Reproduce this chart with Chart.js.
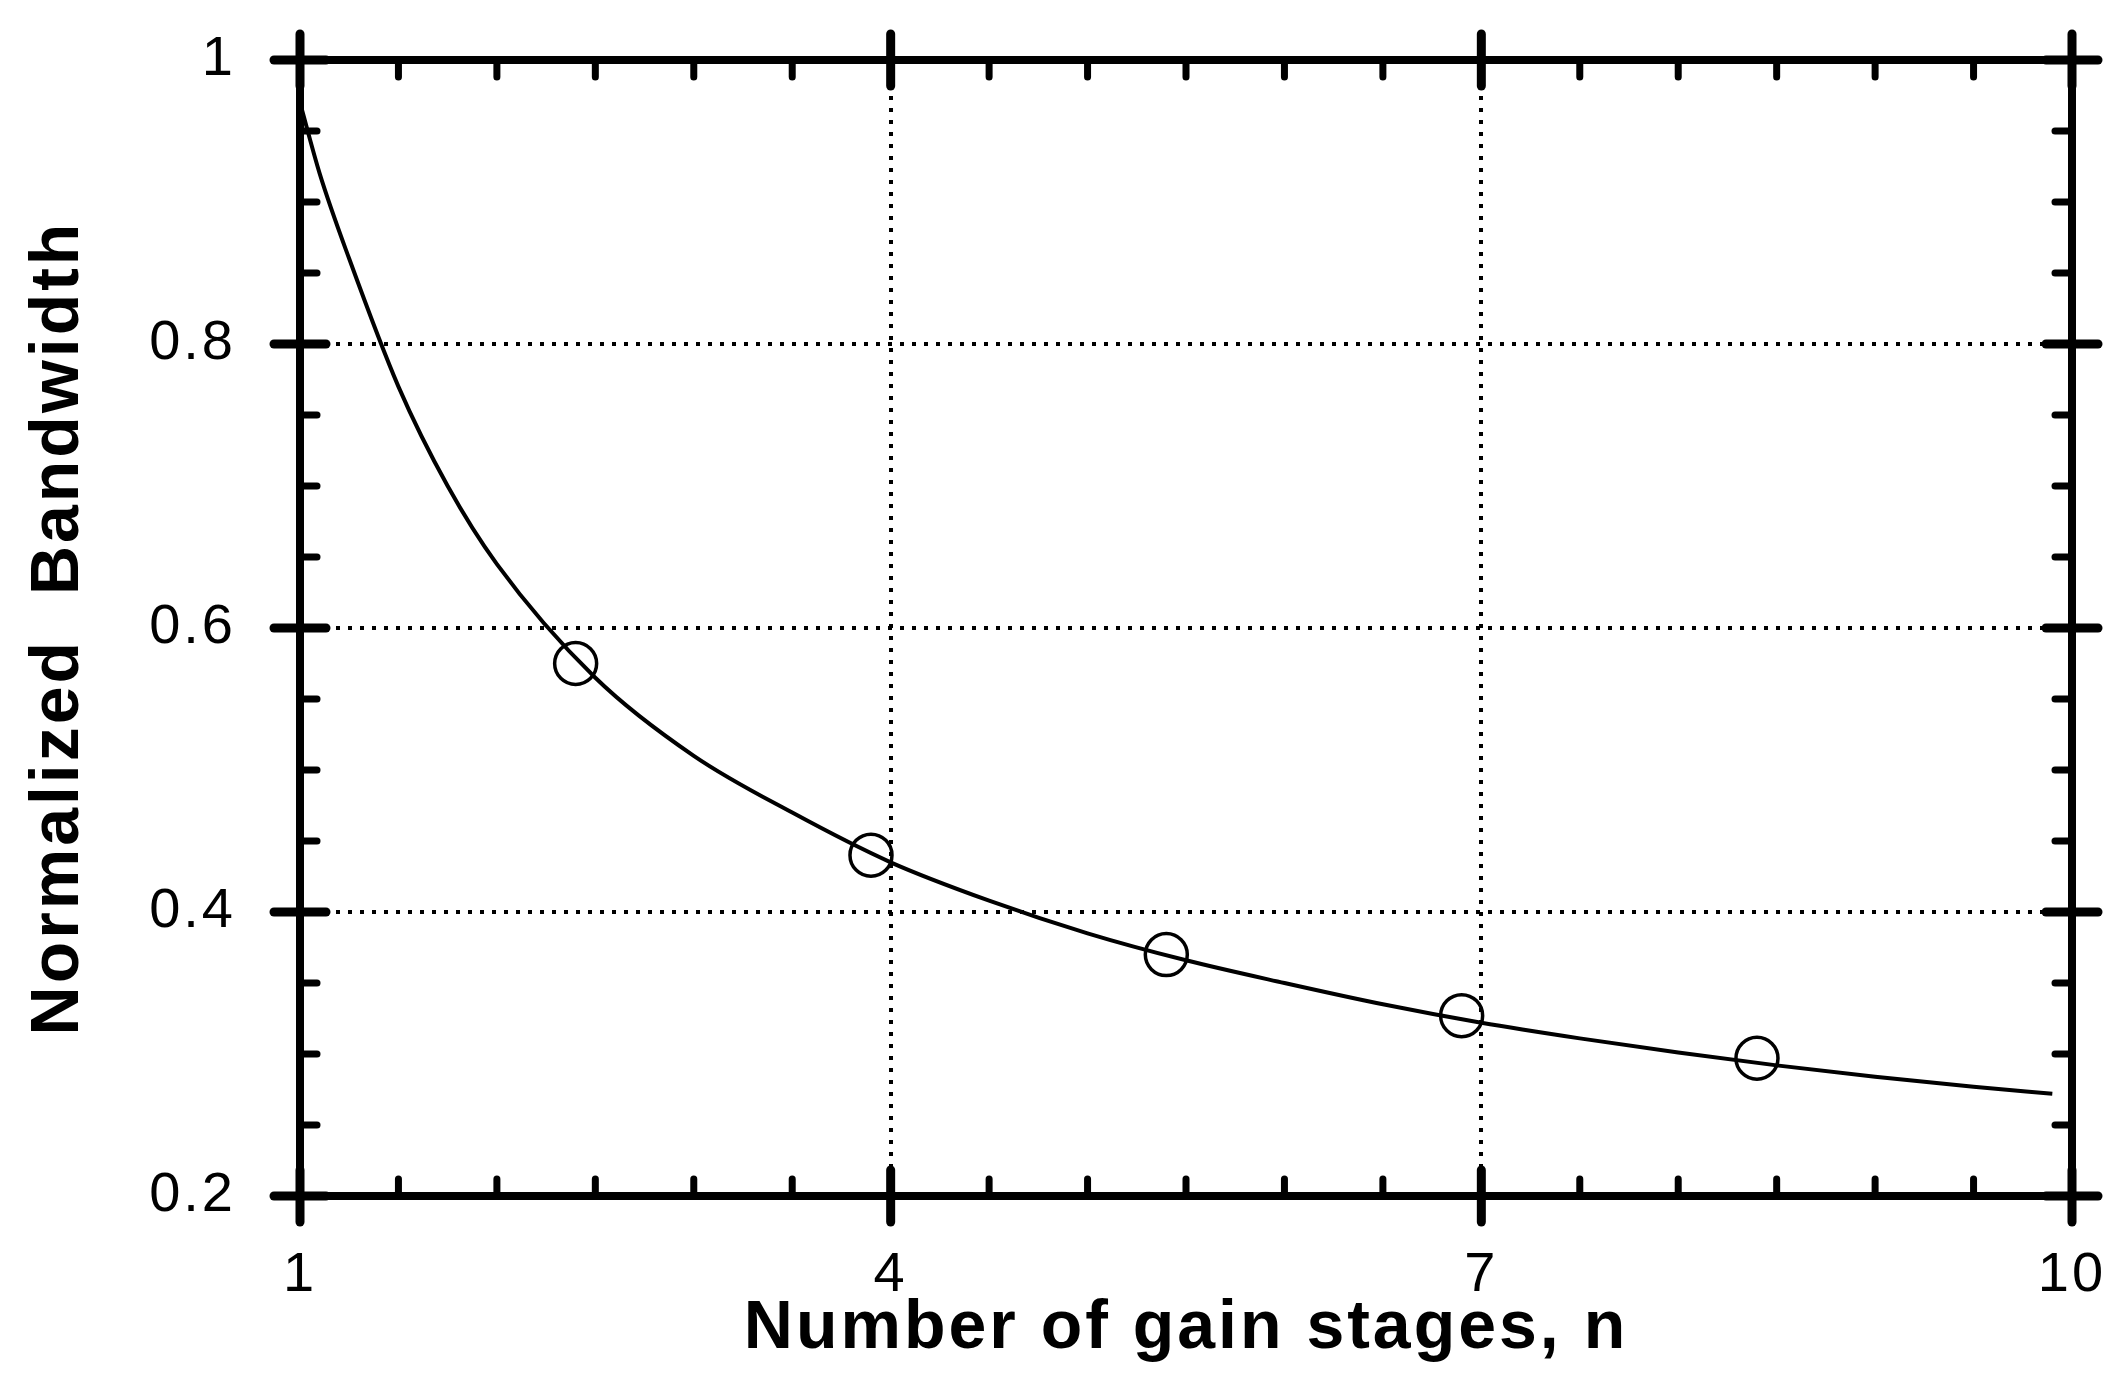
<!DOCTYPE html>
<html>
<head>
<meta charset="utf-8">
<script src="https://cdn.jsdelivr.net/npm/chart.js@4/dist/chart.umd.min.js"></script>
<style>
  body { margin: 0; background: #fff; }
  canvas { display: block; }
</style>
</head>
<body>
<canvas id="canvas" width="2117" height="1400"></canvas>
<script>
// curve
const curveN = [1.0, 1.1, 1.25, 1.5, 1.75, 2.0, 2.5, 3.0, 3.5, 4.0, 4.5, 5.0, 5.5, 6.0, 6.5, 7.0, 7.5, 8.0, 8.5, 9.0, 9.5, 9.9];
const curveBW = [0.97, 0.92, 0.86, 0.77, 0.70, 0.645, 0.565, 0.51, 0.47, 0.435, 0.408, 0.385, 0.366, 0.35, 0.335, 0.322, 0.311, 0.301, 0.292, 0.284, 0.277, 0.272];

// open circle markers
const markN = [2.4, 3.9, 5.4, 6.9, 8.4];
const markBW = [0.575, 0.44, 0.37, 0.327, 0.297];

const xTicks = [1, 4, 7, 10];
const yTicks = [0.2, 0.4, 0.6, 0.8, 1];
const yTickLabels = ['0.2', '0.4', '0.6', '0.8', '1'];
const xMinor = [1.5, 2, 2.5, 3, 3.5, 4.5, 5, 5.5, 6, 6.5, 7.5, 8, 8.5, 9, 9.5];
const yMinor = [0.25, 0.3, 0.35, 0.45, 0.5, 0.55, 0.65, 0.7, 0.75, 0.85, 0.9, 0.95];

// wide letter spacing like the old typeset labels
const spacing = {
  id: 'spacing',
  beforeDraw(chart) { chart.ctx.letterSpacing = '3px'; },
  afterDraw(chart) { chart.ctx.letterSpacing = '0px'; }
};

// thick box, inward minor ticks, crossing major ticks
const frame = {
  id: 'frame',
  afterDraw(chart) {
    const { ctx, chartArea: a, scales: { x, y } } = chart;
    const line = (x1, y1, x2, y2) => {
      ctx.beginPath(); ctx.moveTo(x1, y1); ctx.lineTo(x2, y2); ctx.stroke();
    };
    ctx.save();
    ctx.strokeStyle = '#000';
    ctx.lineCap = 'round';
    ctx.lineWidth = 8;
    ctx.strokeRect(a.left, a.top, a.right - a.left, a.bottom - a.top);

    ctx.lineWidth = 7;
    xMinor.forEach(v => {
      const px = x.getPixelForValue(v);
      line(px, a.bottom, px, a.bottom - 17);
      line(px, a.top, px, a.top + 17);
    });
    yMinor.forEach(v => {
      const py = y.getPixelForValue(v);
      line(a.left, py, a.left + 17, py);
      line(a.right, py, a.right - 17, py);
    });
    ctx.lineWidth = 9;
    xTicks.forEach(v => {
      const px = x.getPixelForValue(v);
      line(px, a.bottom - 26, px, a.bottom + 26);
      line(px, a.top - 26, px, a.top + 26);
    });
    yTicks.forEach(v => {
      const py = y.getPixelForValue(v);
      line(a.left - 26, py, a.left + 26, py);
      line(a.right - 26, py, a.right + 26, py);
    });
    ctx.restore();
  }
};

new Chart(document.getElementById('canvas').getContext('2d'), {
  type: 'scatter',
  data: {
    datasets: [
      {
        data: curveN.map((n, i) => ({ x: n, y: curveBW[i] })),
        showLine: true,
        borderColor: '#000',
        borderWidth: 4,
        pointRadius: 0,
        cubicInterpolationMode: 'monotone',
        fill: false,
      },
      {
        data: markN.map((n, i) => ({ x: n, y: markBW[i] })),
        showLine: false,
        pointStyle: 'circle',
        pointRadius: 21,
        pointBorderWidth: 3.5,
        pointBorderColor: '#000',
        pointBackgroundColor: 'rgba(0,0,0,0)',
      }
    ]
  },
  options: {
    responsive: false,
    animation: false,
    layout: { padding: { top: 60, right: 45, left: 0, bottom: 0 } },
    plugins: { legend: { display: false }, tooltip: { enabled: false } },
    scales: {
      x: {
        type: 'linear',
        min: 1,
        max: 10,
        afterBuildTicks: s => { s.ticks = xTicks.map(v => ({ value: v })); },
        afterFit: s => { s.height = 204; s.paddingLeft = 0; s.paddingRight = 0; },
        border: { display: false, dash: [4, 8] },
        grid: { color: '#000', lineWidth: 4, drawTicks: false },
        ticks: {
          color: '#000',
          padding: 46,
          maxRotation: 0,
          font: { family: 'Liberation Sans', size: 56 },
          callback: v => String(v)
        },
        title: {
          display: true,
          text: 'Number of gain stages, n',
          color: '#000',
          font: { family: 'Liberation Sans', size: 68, weight: 'bold' },
          padding: { top: 0, bottom: 30 }
        }
      },
      y: {
        type: 'linear',
        min: 0.2,
        max: 1,
        afterBuildTicks: s => { s.ticks = yTicks.map(v => ({ value: v })); },
        afterFit: s => { s.width = 300; s.paddingTop = 0; s.paddingBottom = 0; },
        border: { display: false, dash: [4, 8] },
        grid: { color: '#000', lineWidth: 4, drawTicks: false },
        ticks: {
          color: '#000',
          padding: 64,
          font: { family: 'Liberation Sans', size: 56 },
          callback: (v, i) => yTickLabels[i]
        },
        title: {
          display: true,
          text: 'Normalized  Bandwidth',
          color: '#000',
          font: { family: 'Liberation Sans', size: 68, weight: 'bold' },
          padding: { top: 18, bottom: 0 }
        }
      }
    }
  },
  plugins: [spacing, frame]
});
</script>
</body>
</html>
